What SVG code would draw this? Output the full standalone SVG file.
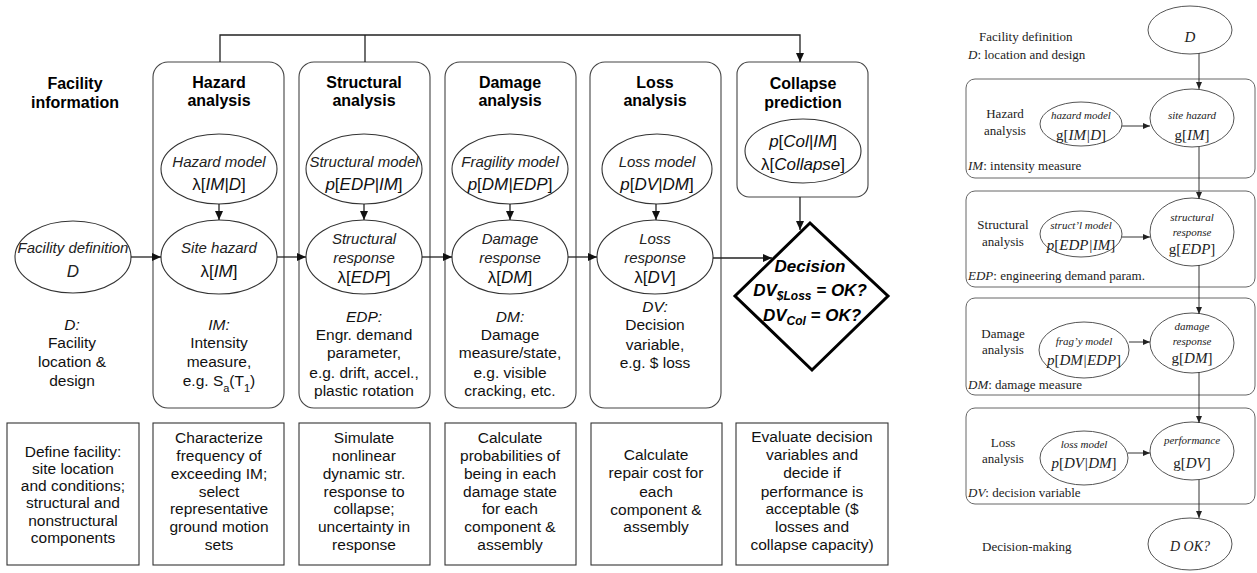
<svg xmlns="http://www.w3.org/2000/svg" width="1257" height="573" viewBox="0 0 1257 573">
  <style>
    .title { font-family: "Liberation Sans", Arial, sans-serif; font-weight: bold; font-size: 16px; fill: #000; text-anchor: middle; }
    .el { fill: #fff; stroke: #333; stroke-width: 1.1; }
    .et { font-family: "Liberation Sans", Arial, sans-serif; font-style: italic; font-size: 15px; fill: #222; text-anchor: middle; }
    .em { font-family: "Liberation Sans", Arial, sans-serif; font-size: 17px; fill: #111; text-anchor: middle; }
    .em .v { font-style: italic; }
    .desc { font-family: "Liberation Sans", Arial, sans-serif; font-size: 15.5px; fill: #111; text-anchor: middle; }
    .desc .i { font-style: italic; }
    .col { fill: #fff; stroke: #444; stroke-width: 1.1; }
    .note { fill: #fff; stroke: #333; stroke-width: 1.1; }
    .conn { fill: none; stroke: #222; stroke-width: 1.3; }
    .dec { fill: #fff; stroke: #000; stroke-width: 3; }
    .dt { font-family: "Liberation Sans", Arial, sans-serif; font-weight: bold; font-style: italic; font-size: 17px; fill: #000; text-anchor: middle; }
    .rb { fill: #fff; stroke: #666; stroke-width: 1; }
    .rel { fill: #fff; stroke: #555; stroke-width: 1; }
    .rl { font-family: "Liberation Serif", "Times New Roman", serif; font-size: 13px; fill: #222; }
    .rs { font-family: "Liberation Serif", "Times New Roman", serif; font-style: italic; font-size: 11px; fill: #222; text-anchor: middle; }
    .rm { font-family: "Liberation Serif", "Times New Roman", serif; font-size: 15px; fill: #222; text-anchor: middle; }
    .rm .v, .rl .v { font-style: italic; }
    .rconn { fill: none; stroke: #333; stroke-width: 1; }
  </style>
  <defs>
    <marker id="arr" markerUnits="userSpaceOnUse" markerWidth="10" markerHeight="10" refX="9" refY="4" orient="auto">
      <path d="M0,0 L9,4 L0,8 Z" fill="#111"/>
    </marker>
    <marker id="arrs" markerUnits="userSpaceOnUse" markerWidth="8" markerHeight="8" refX="7" refY="3" orient="auto">
      <path d="M0,0 L7,3 L0,6 Z" fill="#222"/>
    </marker>
  </defs>

  <rect width="1257" height="573" fill="#fff"/>

  <!-- Facility information column -->
  <g id="facility">
    <text class="title" x="75" y="89">Facility</text>
    <text class="title" x="75" y="108">information</text>
    <ellipse class="el" cx="73" cy="257" rx="58" ry="36"/>
    <text class="et" x="73" y="253">Facility definition</text>
    <text class="et" x="73" y="277" style="font-size:17px">D</text>
    <text class="desc" x="72" y="330"><tspan class="i">D:</tspan></text>
    <text class="desc" x="72" y="348">Facility</text>
    <text class="desc" x="72" y="367">location &amp;</text>
    <text class="desc" x="72" y="386">design</text>
  </g>

  <!-- Hazard analysis column -->
  <g id="hazard">
    <rect class="col" x="153" y="62" width="131" height="346" rx="15"/>
    <text class="title" x="219" y="88">Hazard</text>
    <text class="title" x="219" y="106">analysis</text>
    <ellipse class="el" cx="219" cy="169" rx="58" ry="35"/>
    <text class="et" x="219" y="167">Hazard model</text>
    <text class="em" x="219" y="190">λ[<tspan class="v">IM|D</tspan>]</text>
    <ellipse class="el" cx="219" cy="257" rx="58" ry="37"/>
    <text class="et" x="219" y="253">Site hazard</text>
    <text class="em" x="219" y="277">λ[<tspan class="v">IM</tspan>]</text>
    <text class="desc" x="219" y="330"><tspan class="i">IM:</tspan></text>
    <text class="desc" x="219" y="348">Intensity</text>
    <text class="desc" x="219" y="367">measure,</text>
    <text class="desc" x="219" y="386">e.g. S<tspan baseline-shift="sub" font-size="11">a</tspan>(T<tspan baseline-shift="sub" font-size="11">1</tspan>)</text>
  </g>

  <!-- Structural analysis column -->
  <g id="structural">
    <rect class="col" x="299" y="62" width="131" height="346" rx="15"/>
    <text class="title" x="364" y="88">Structural</text>
    <text class="title" x="364" y="106">analysis</text>
    <ellipse class="el" cx="364" cy="169" rx="58" ry="35"/>
    <text class="et" x="364" y="167">Structural model</text>
    <text class="em" x="364" y="190"><tspan class="v">p</tspan>[<tspan class="v">EDP|IM</tspan>]</text>
    <ellipse class="el" cx="364" cy="257" rx="58" ry="37"/>
    <text class="et" x="364" y="244">Structural</text>
    <text class="et" x="364" y="263">response</text>
    <text class="em" x="364" y="283">λ[<tspan class="v">EDP</tspan>]</text>
    <text class="desc" x="364" y="322"><tspan class="i">EDP:</tspan></text>
    <text class="desc" x="364" y="340">Engr. demand</text>
    <text class="desc" x="364" y="358">parameter,</text>
    <text class="desc" x="364" y="378">e.g. drift, accel.,</text>
    <text class="desc" x="364" y="396">plastic rotation</text>
  </g>

  <!-- Damage analysis column -->
  <g id="damage">
    <rect class="col" x="445" y="62" width="131" height="346" rx="15"/>
    <text class="title" x="510" y="88">Damage</text>
    <text class="title" x="510" y="106">analysis</text>
    <ellipse class="el" cx="510" cy="169" rx="58" ry="35"/>
    <text class="et" x="510" y="167">Fragility model</text>
    <text class="em" x="510" y="190"><tspan class="v">p</tspan>[<tspan class="v">DM|EDP</tspan>]</text>
    <ellipse class="el" cx="510" cy="257" rx="58" ry="37"/>
    <text class="et" x="510" y="244">Damage</text>
    <text class="et" x="510" y="263">response</text>
    <text class="em" x="510" y="283">λ[<tspan class="v">DM</tspan>]</text>
    <text class="desc" x="510" y="322"><tspan class="i">DM:</tspan></text>
    <text class="desc" x="510" y="340">Damage</text>
    <text class="desc" x="510" y="358">measure/state,</text>
    <text class="desc" x="510" y="378">e.g. visible</text>
    <text class="desc" x="510" y="396">cracking, etc.</text>
  </g>

  <!-- Loss analysis column -->
  <g id="loss">
    <rect class="col" x="590" y="62" width="131" height="346" rx="15"/>
    <text class="title" x="655" y="88">Loss</text>
    <text class="title" x="655" y="106">analysis</text>
    <ellipse class="el" cx="657" cy="169" rx="55" ry="35"/>
    <text class="et" x="657" y="167">Loss model</text>
    <text class="em" x="657" y="190"><tspan class="v">p</tspan>[<tspan class="v">DV|DM</tspan>]</text>
    <ellipse class="el" cx="655" cy="257" rx="58" ry="37"/>
    <text class="et" x="655" y="244">Loss</text>
    <text class="et" x="655" y="263">response</text>
    <text class="em" x="655" y="283">λ[<tspan class="v">DV</tspan>]</text>
    <text class="desc" x="655" y="312"><tspan class="i">DV:</tspan></text>
    <text class="desc" x="655" y="330">Decision</text>
    <text class="desc" x="655" y="350">variable,</text>
    <text class="desc" x="655" y="368">e.g. $ loss</text>
  </g>

  <!-- Collapse prediction -->
  <g id="collapse">
    <rect class="col" x="737" y="62" width="131" height="135" rx="12"/>
    <text class="title" x="803" y="89">Collapse</text>
    <text class="title" x="803" y="108">prediction</text>
    <ellipse class="el" cx="803" cy="151" rx="58" ry="32"/>
    <text class="em" x="803" y="147"><tspan class="v">p</tspan>[<tspan class="v">Col|IM</tspan>]</text>
    <text class="em" x="803" y="170">λ[<tspan class="v">Collapse</tspan>]</text>
  </g>

  <!-- Decision -->
  <g id="decision">
    <polygon class="dec" points="810,223 888,296 812,370 735,296"/>
    <text class="dt" x="810" y="272">Decision</text>
    <text class="dt" x="810" y="296">DV<tspan font-size="12" dy="4">$Loss</tspan><tspan dy="-4"> = OK?</tspan></text>
    <text class="dt" x="812" y="321">DV<tspan font-size="12" dy="4">Col</tspan><tspan dy="-4"> = OK?</tspan></text>
  </g>

  <!-- Step description boxes -->
  <g id="step-define">
    <rect class="note" x="7" y="423" width="132" height="142"/>
    <text class="desc" x="73" y="457">Define facility:</text>
    <text class="desc" x="73" y="474">site location</text>
    <text class="desc" x="73" y="491">and conditions;</text>
    <text class="desc" x="73" y="508">structural and</text>
    <text class="desc" x="73" y="526">nonstructural</text>
    <text class="desc" x="73" y="543">components</text>
  </g>
  <g id="step-hazard">
    <rect class="note" x="153" y="423" width="131" height="142"/>
    <text class="desc" x="219" y="443">Characterize</text>
    <text class="desc" x="219" y="461">frequency of</text>
    <text class="desc" x="219" y="479">exceeding IM;</text>
    <text class="desc" x="219" y="497">select</text>
    <text class="desc" x="219" y="514">representative</text>
    <text class="desc" x="219" y="532">ground motion</text>
    <text class="desc" x="219" y="550">sets</text>
  </g>
  <g id="step-structural">
    <rect class="note" x="299" y="423" width="131" height="142"/>
    <text class="desc" x="364" y="443">Simulate</text>
    <text class="desc" x="364" y="461">nonlinear</text>
    <text class="desc" x="364" y="479">dynamic str.</text>
    <text class="desc" x="364" y="497">response to</text>
    <text class="desc" x="364" y="514">collapse;</text>
    <text class="desc" x="364" y="532">uncertainty in</text>
    <text class="desc" x="364" y="550">response</text>
  </g>
  <g id="step-damage">
    <rect class="note" x="445" y="423" width="131" height="142"/>
    <text class="desc" x="510" y="443">Calculate</text>
    <text class="desc" x="510" y="461">probabilities of</text>
    <text class="desc" x="510" y="479">being in each</text>
    <text class="desc" x="510" y="497">damage state</text>
    <text class="desc" x="510" y="514">for each</text>
    <text class="desc" x="510" y="532">component &amp;</text>
    <text class="desc" x="510" y="550">assembly</text>
  </g>
  <g id="step-loss">
    <rect class="note" x="591" y="423" width="131" height="142"/>
    <text class="desc" x="656" y="460">Calculate</text>
    <text class="desc" x="656" y="478">repair cost for</text>
    <text class="desc" x="656" y="497">each</text>
    <text class="desc" x="656" y="515">component &amp;</text>
    <text class="desc" x="656" y="532">assembly</text>
  </g>
  <g id="step-decision">
    <rect class="note" x="736" y="423" width="152" height="142"/>
    <text class="desc" x="812" y="442">Evaluate decision</text>
    <text class="desc" x="812" y="460">variables and</text>
    <text class="desc" x="812" y="478">decide if</text>
    <text class="desc" x="812" y="497">performance is</text>
    <text class="desc" x="812" y="514">acceptable ($</text>
    <text class="desc" x="812" y="532">losses and</text>
    <text class="desc" x="812" y="550">collapse capacity)</text>
  </g>

  <!-- Connectors of the main flow -->
  <g id="connectors">
    <path class="conn" d="M220,62 V35 H800 V62" marker-end="url(#arr)"/>
    <path class="conn" d="M365,35 V62"/>
    <path class="conn" d="M131,257 H161" marker-end="url(#arr)"/>
    <path class="conn" d="M277,257 H306" marker-end="url(#arr)"/>
    <path class="conn" d="M422,257 H452" marker-end="url(#arr)"/>
    <path class="conn" d="M568,257 H597" marker-end="url(#arr)"/>
    <path class="conn" d="M713,258 H772" marker-end="url(#arr)"/>
    <path class="conn" d="M219,204 V220" marker-end="url(#arr)"/>
    <path class="conn" d="M364,204 V220" marker-end="url(#arr)"/>
    <path class="conn" d="M510,204 V220" marker-end="url(#arr)"/>
    <path class="conn" d="M656,204 V220" marker-end="url(#arr)"/>
    <path class="conn" d="M800,197 V230" marker-end="url(#arr)"/>
  </g>

  <!-- Compact framework chain -->
  <g id="r-facility">
    <text class="rl" x="979" y="41">Facility definition</text>
    <text class="rl" x="968" y="59"><tspan class="v">D</tspan>: location and design</text>
    <ellipse class="rel" cx="1190" cy="30" rx="42" ry="24"/>
    <text class="rm" x="1190" y="42"><tspan class="v">D</tspan></text>
  </g>
  <g id="r-hazard">
    <rect class="rb" x="966" y="79" width="289" height="99" rx="9"/>
    <text class="rl" x="1005" y="118" text-anchor="middle">Hazard</text>
    <text class="rl" x="1005" y="135" text-anchor="middle">analysis</text>
    <ellipse class="rel" cx="1081" cy="124" rx="41" ry="22"/>
    <text class="rs" x="1081" y="119">hazard model</text>
    <text class="rm" x="1081" y="140">g[<tspan class="v">IM|D</tspan>]</text>
    <ellipse class="rel" cx="1192" cy="118" rx="42" ry="29"/>
    <text class="rs" x="1192" y="119">site hazard</text>
    <text class="rm" x="1192" y="140">g[<tspan class="v">IM</tspan>]</text>
    <text class="rl" x="968" y="170"><tspan class="v">IM</tspan>: intensity measure</text>
  </g>
  <g id="r-structural">
    <rect class="rb" x="966" y="191" width="289" height="96" rx="9"/>
    <text class="rl" x="1003" y="229" text-anchor="middle">Structural</text>
    <text class="rl" x="1003" y="246" text-anchor="middle">analysis</text>
    <ellipse class="rel" cx="1081" cy="234" rx="41" ry="23"/>
    <text class="rs" x="1081" y="229">struct’l model</text>
    <text class="rm" x="1081" y="250"><tspan class="v">p</tspan>[<tspan class="v">EDP|IM</tspan>]</text>
    <ellipse class="rel" cx="1192" cy="232" rx="42" ry="34"/>
    <text class="rs" x="1192" y="221">structural</text>
    <text class="rs" x="1192" y="236">response</text>
    <text class="rm" x="1192" y="254">g[<tspan class="v">EDP</tspan>]</text>
    <text class="rl" x="968" y="280"><tspan class="v">EDP</tspan>: engineering demand param.</text>
  </g>
  <g id="r-damage">
    <rect class="rb" x="966" y="298" width="289" height="97" rx="9"/>
    <text class="rl" x="1003" y="338" text-anchor="middle">Damage</text>
    <text class="rl" x="1003" y="354" text-anchor="middle">analysis</text>
    <ellipse class="rel" cx="1084" cy="350" rx="45" ry="28"/>
    <text class="rs" x="1084" y="345">frag’y model</text>
    <text class="rm" x="1084" y="365"><tspan class="v">p</tspan>[<tspan class="v">DM|EDP</tspan>]</text>
    <ellipse class="rel" cx="1192" cy="343" rx="42" ry="30"/>
    <text class="rs" x="1192" y="330">damage</text>
    <text class="rs" x="1192" y="345">response</text>
    <text class="rm" x="1192" y="363">g[<tspan class="v">DM</tspan>]</text>
    <text class="rl" x="968" y="389"><tspan class="v">DM</tspan>: damage measure</text>
  </g>
  <g id="r-loss">
    <rect class="rb" x="966" y="408" width="289" height="96" rx="9"/>
    <text class="rl" x="1003" y="447" text-anchor="middle">Loss</text>
    <text class="rl" x="1003" y="463" text-anchor="middle">analysis</text>
    <ellipse class="rel" cx="1084" cy="458" rx="44" ry="27"/>
    <text class="rs" x="1084" y="448">loss model</text>
    <text class="rm" x="1084" y="468"><tspan class="v">p</tspan>[<tspan class="v">DV|DM</tspan>]</text>
    <ellipse class="rel" cx="1192" cy="451" rx="42" ry="29"/>
    <text class="rs" x="1192" y="444">performance</text>
    <text class="rm" x="1192" y="468">g[<tspan class="v">DV</tspan>]</text>
    <text class="rl" x="968" y="497"><tspan class="v">DV</tspan>: decision variable</text>
  </g>
  <g id="r-decision">
    <text class="rl" x="982" y="551">Decision-making</text>
    <ellipse class="rel" cx="1190" cy="544" rx="42" ry="26"/>
    <text class="rm" x="1190" y="551" style="font-size:14px"><tspan class="v">D OK?</tspan></text>
  </g>
  <g id="r-connectors">
    <path class="rconn" d="M1199,53 V89" marker-end="url(#arrs)"/>
    <path class="rconn" d="M1199,147 V199" marker-end="url(#arrs)"/>
    <path class="rconn" d="M1199,265 V314" marker-end="url(#arrs)"/>
    <path class="rconn" d="M1199,372 V423" marker-end="url(#arrs)"/>
    <path class="rconn" d="M1199,480 V518" marker-end="url(#arrs)"/>
    <path class="rconn" d="M1122,126 H1150" marker-end="url(#arrs)"/>
    <path class="rconn" d="M1122,237 H1150" marker-end="url(#arrs)"/>
    <path class="rconn" d="M1129,342 H1150" marker-end="url(#arrs)"/>
    <path class="rconn" d="M1128,453 H1150" marker-end="url(#arrs)"/>
  </g>
</svg>
